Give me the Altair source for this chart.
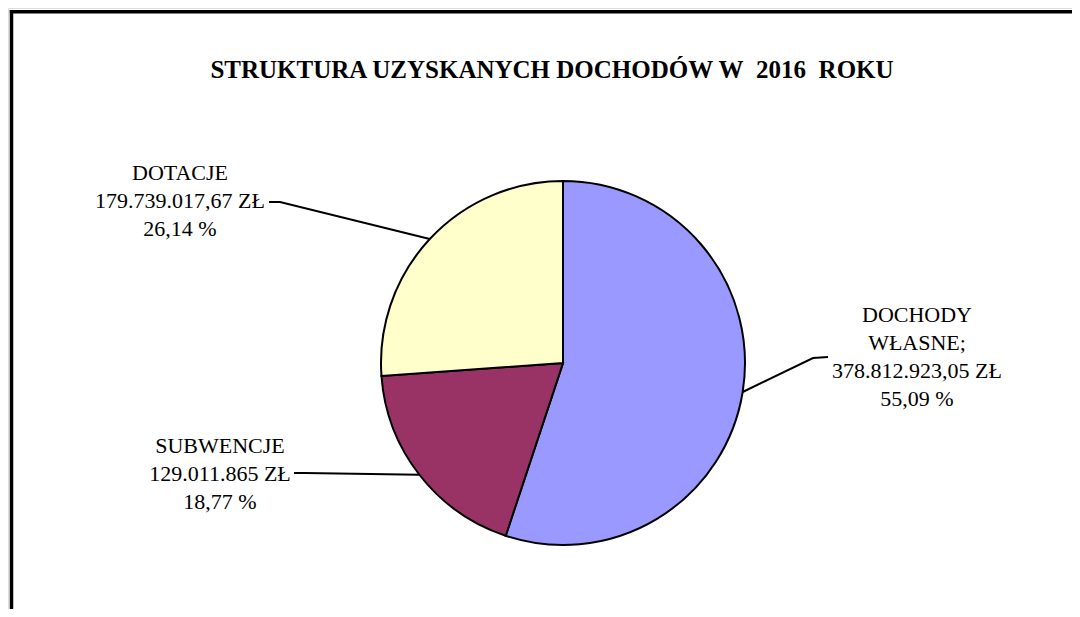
import altair as alt
import pandas as pd
import numpy as np

# ---- data ----
categories = ["DOCHODY WŁASNE", "SUBWENCJE", "DOTACJE"]
amounts = [378812923.05, 129011865.0, 179739017.67]
label_heads = ["DOCHODY\nWŁASNE;", "SUBWENCJE", "DOTACJE"]
amount_labels = ["378.812.923,05 ZŁ", "129.011.865 ZŁ", "179.739.017,67 ZŁ"]
percent_labels = ["55,09 %", "18,77 %", "26,14 %"]
title_text = "STRUKTURA UZYSKANYCH DOCHODÓW W\u00a0 2016\u00a0 ROKU"

# ---- styles / layout (pixel offsets from pie centre, y up) ----
colors = ["#9999FF", "#993366", "#FFFFCC"]
W, H = 1064, 601
CX, CY = 555, 355          # pie centre inside plot area
R = 182
label_xy = [(354, 48), (-343, -83), (-383, 190)]   # first line of each label
leader_end = [(265, 6), (-269, -110), (-294, 161)]
leader_knee = [(250, 5), (-258, -110), (-283, 161)]
FONT = "'Liberation Serif', 'Times New Roman', Times, serif"

total = sum(amounts)
frac = [a / total for a in amounts]
starts = np.cumsum([0] + frac[:-1])
mids = [(s + f / 2) * 2 * np.pi for s, f in zip(starts, frac)]

pie_df = pd.DataFrame({"cat": categories, "value": amounts, "order": list(range(len(categories)))})

lab_df = pd.DataFrame({
    "cat": categories,
    "x": [p[0] for p in label_xy],
    "y": [p[1] for p in label_xy],
    "text": [h + "\n" + a + "\n" + p for h, a, p in zip(label_heads, amount_labels, percent_labels)],
})

rows = []
for i, c in enumerate(categories):
    ex, ey = R * np.sin(mids[i]), R * np.cos(mids[i])
    pts = [leader_end[i], leader_knee[i], (ex, ey)]
    for k, (px, py) in enumerate(pts):
        rows.append({"cat": c, "k": k, "x": px, "y": py})
line_df = pd.DataFrame(rows)

xs = alt.Scale(domain=[-CX, W - CX])
ys = alt.Scale(domain=[-(H - CY), CY])

pie = alt.Chart(pie_df).mark_arc(outerRadius=R, stroke="black", strokeWidth=2).encode(
    theta=alt.Theta("value:Q", stack=True),
    order=alt.Order("order:Q"),
    color=alt.Color("cat:N", scale=alt.Scale(domain=categories, range=colors), legend=None),
    x=alt.value(CX), y=alt.value(CY),
)

leaders = alt.Chart(line_df).mark_line(color="black", strokeWidth=2).encode(
    x=alt.X("x:Q", scale=xs, axis=None),
    y=alt.Y("y:Q", scale=ys, axis=None),
    detail="cat:N",
    order="k:Q",
)

labels = alt.Chart(lab_df).mark_text(
    font=FONT, fontSize=22, lineBreak="\n", lineHeight=28, align="center", baseline="middle", color="black"
).encode(
    x=alt.X("x:Q", scale=xs, axis=None),
    y=alt.Y("y:Q", scale=ys, axis=None),
    text="text:N",
)

title = alt.Chart(alt.Data(values=[{"t": title_text}])).mark_text(
    font=FONT, fontSize=25, fontWeight="bold", align="center", baseline="middle", color="black"
).encode(x=alt.value(544), y=alt.value(62), text="t:N")

frame_top = alt.Chart(alt.Data(values=[{"a": 1}])).mark_rule(color="black", strokeWidth=3.5).encode(
    x=alt.value(1.8), x2=alt.value(W + 10), y=alt.value(3.8)
)
frame_left = alt.Chart(alt.Data(values=[{"a": 1}])).mark_rule(color="black", strokeWidth=3.5).encode(
    y=alt.value(2), y2=alt.value(H + 10), x=alt.value(3.5)
)

chart = alt.layer(pie, leaders, labels, title, frame_top, frame_left).properties(
    width=W, height=H, padding=0, autosize=alt.AutoSizeParams(type="none")
).configure_view(stroke=None).configure(background="white")

chart.save("out.html", embed_options={"renderer": "svg", "actions": False})
